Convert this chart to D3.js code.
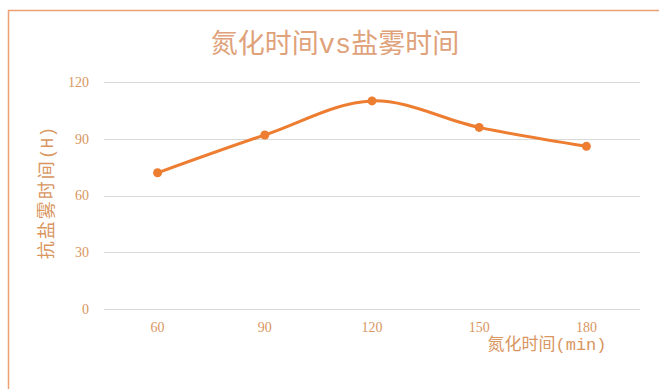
<!DOCTYPE html>
<html>
<head>
<meta charset="utf-8">
<script src="https://cdn.jsdelivr.net/npm/d3@7"></script>
<style>
  html, body { margin: 0; padding: 0; background: #fff; }
  svg { display: block; }
</style>
</head>
<body>
<svg id="chart" width="659" height="389"></svg>
<script>
// Nitriding time (min) vs salt-spray resistance time (H)
const categories = ["60", "90", "120", "150", "180"];
const sprayHours = [72, 92, 110, 96, 86];
const yTicks = [0, 30, 60, 90, 120];

// titles split into CJK / half-width runs so the Latin parts use a fixed-width face
const titleParts = [["氮化时间", "cjk"], ["vs", "mono"], ["盐雾时间", "cjk"]];
const xTitleParts = [["氮化时间", "cjk"], ["(min)", "mono"]];
const yTitleParts = [["抗盐雾时间", "cjk"], ["(H)", "mono"]];

const W = 659, H = 389;
const plot = { left: 104, right: 640, top: 82, bottom: 309 };
const serifStack = "'Liberation Serif', 'Noto Sans CJK SC', serif";
const cjkStack = "'Noto Sans CJK SC', sans-serif";
const monoStack = "'Liberation Mono', monospace";
const labelColor = "#D9965F";
const lineColor = "#ED7D31";

const svg = d3.select("#chart");

// chart area border
svg.append("rect")
  .attr("x", 8.5).attr("y", 10.5)
  .attr("width", W + 20).attr("height", H + 20)
  .attr("fill", "#fff")
  .attr("stroke", "#EBA172").attr("stroke-width", 1.5);

const x = d3.scaleBand().domain(categories).range([plot.left, plot.right]);
const y = d3.scaleLinear().domain([0, 120]).range([plot.bottom, plot.top]);

// gridlines
svg.append("g")
  .selectAll("line").data(yTicks).join("line")
  .attr("x1", plot.left).attr("x2", plot.right)
  .attr("y1", d => Math.round(y(d)) + 0.5).attr("y2", d => Math.round(y(d)) + 0.5)
  .attr("stroke", "#D9D9D9").attr("stroke-width", 1);

// y axis tick labels
const yAxis = d3.axisLeft(y).tickValues(yTicks).tickSize(0).tickPadding(0);
const gy = svg.append("g").attr("transform", `translate(${plot.left - 15},0)`).call(yAxis);
gy.select(".domain").remove();
gy.selectAll("text")
  .attr("fill", labelColor)
  .style("font-family", serifStack)
  .style("font-size", "14px");

// x axis tick labels
const xAxis = d3.axisBottom(x).tickSize(0).tickPadding(0);
const gx = svg.append("g").attr("transform", `translate(0,${plot.bottom + 13})`).call(xAxis);
gx.select(".domain").remove();
gx.selectAll("text")
  .attr("fill", labelColor)
  .style("font-family", serifStack)
  .style("font-size", "14px");

// series line
const pts = categories.map((c, i) => [x(c) + x.bandwidth() / 2, y(sprayHours[i])]);
svg.append("path")
  .datum(pts)
  .attr("d", d3.line().curve(d3.curveCatmullRom.alpha(0.5)))
  .attr("fill", "none")
  .attr("stroke", lineColor)
  .attr("stroke-width", 3)
  .attr("stroke-linecap", "round");

svg.append("g")
  .selectAll("circle").data(pts).join("circle")
  .attr("cx", d => d[0]).attr("cy", d => d[1])
  .attr("r", 4.5)
  .attr("fill", lineColor);

function addParts(textSel, parts, cjkSpacing) {
  parts.forEach(([t, kind]) => {
    textSel.append("tspan")
      .style("font-family", kind === "mono" ? monoStack : cjkStack)
      .style("letter-spacing", kind === "mono" ? "0px" : (cjkSpacing || "0px"))
      .text(t);
  });
  return textSel;
}

// chart title
addParts(svg.append("text")
  .attr("x", 335).attr("y", 53)
  .attr("text-anchor", "middle")
  .attr("fill", "#E0A27A")
  .style("font-size", "27px"), titleParts);

// x axis title
addParts(svg.append("text")
  .attr("x", 547).attr("y", 350)
  .attr("text-anchor", "middle")
  .attr("fill", labelColor)
  .style("font-size", "17px"), xTitleParts);

// y axis title
addParts(svg.append("text")
  .attr("transform", "translate(53,193) rotate(-90)")
  .attr("text-anchor", "middle")
  .attr("fill", labelColor)
  .style("font-size", "18px"), yTitleParts, "2px");
</script>
</body>
</html>
